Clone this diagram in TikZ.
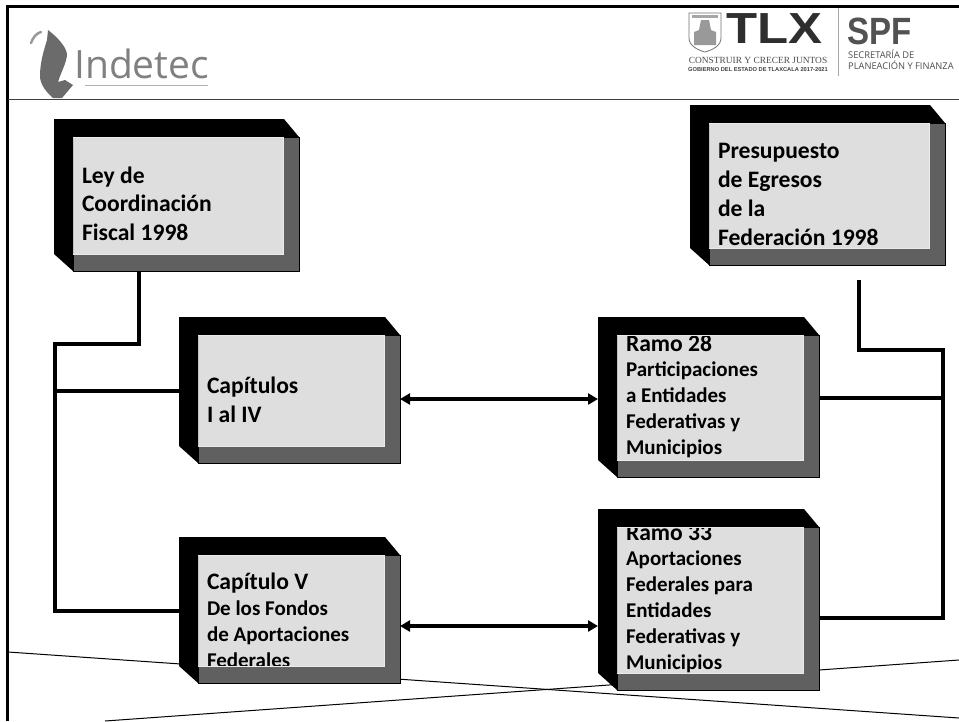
\documentclass[tikz,border=0pt]{standalone}
\usepackage{fontspec}
\setmainfont{Carlito}
\newfontfamily\logosans{Open Sans}
\newfontfamily\logobold{Liberation Sans}
\newfontfamily\logoserif{Liberation Serif}
\usetikzlibrary{arrows.meta,calc}
\definecolor{frontgray}{HTML}{DEDEDE}
\definecolor{sidegray}{HTML}{606060}
\tikzset{
  region/.style={inner sep=0pt,outer sep=0pt,draw=none},
  boxtext/.style={anchor=base west,inner sep=0pt,outer sep=0pt,text=black},
  conn/.style={draw=black,line width=3.3pt,line join=miter},
  dblconn/.style={draw=black,line width=3.3pt,{Triangle[length=10pt,width=11pt]}-{Triangle[length=10pt,width=11pt]}},
  thin line/.style={draw=black,line width=1pt},
  frameline/.style={draw=black,line width=3pt},
}
\newcommand{\bigf}{\fontsize{23.6}{25}\selectfont\bfseries}
\newcommand{\smallf}{\fontsize{21}{22}\selectfont\bfseries}
\newcommand{\regionbox}[5]{% name L T R B
  \node[region,minimum width={#4pt-#2pt},minimum height={#5pt-#3pt}] (#1) at ({(#2+#4)/2},{(#3+#5)/2}) {};}
\newcommand{\frontface}[5]{% name L T R B
  \fill[frontgray] ({#2+18},{#3+17}) rectangle ({#4-15},{#5-16});}
\newcommand{\bevels}[4]{% L T R B
  \fill[black] (#1,#2) -- ({#3-15},#2) -- (#3,{#2+18}) -- ({#1+19},{#2+18}) -- ({#1+19},#4) -- (#1,{#4-17}) -- cycle;
  \filldraw[fill=sidegray,draw=black,line width=.8pt] ({#3-16},{#2+18}) -- (#3,{#2+18}) -- (#3,#4) -- ({#1+19},#4) -- ({#1+19},{#4-17}) -- ({#3-16},{#4-17}) -- cycle;
  \draw[frontgray!60!white,line width=.6pt] ({#1+19},{#2+18}) -- ({#3-16},{#2+18}) -- ({#3-16},{#4-17}) -- ({#1+19},{#4-17});}
% \stack{font}{baseline skip}{lines}
\newcommand{\stack}[3]{\vtop{#1\baselineskip=#2pt\lineskiplimit=-100pt #3}}
\begin{document}
\begin{tikzpicture}[x=1pt,y=-1pt]
\useasboundingbox (0,0) rectangle (959,721);
\fill[white] (0,0) rectangle (959,721);

% frame and header rule
\coordinate (fa) at (7.5,721);
\coordinate (fb) at (7.5,6);
\coordinate (fc) at (959,6);
\draw[frameline] (fa) -- (fb) -- (fc);
\coordinate (ha) at (8,99.5);
\coordinate (hb) at (959,99.5);
\draw[draw=black!75,line width=1.4pt] (ha) -- (hb);

% regions
\regionbox{b1}{54}{119}{299}{271}
\regionbox{b2}{690}{105}{945}{265}
\regionbox{b3}{179}{317}{400}{463}
\regionbox{b4}{598}{317}{819}{477}
\regionbox{b5}{598}{509}{819}{690}
\regionbox{b6}{179}{537}{400}{683}

% thin crossing lines
\coordinate (ta) at (8,652);
\coordinate (tb) at (959,718);
\coordinate (tc) at (105,721);
\coordinate (td) at (959,660);
\draw[thin line] (ta) -- (tb);
\draw[thin line] (tc) -- (td);

% boxes: face, text, then bevel (the bevel cuts overflowing text)
\frontface{b1}{54}{119}{299}{271}
\node[boxtext] (t1) at (82,183) {\stack{\bigf}{28.5}{\hbox{Ley de}\hbox{Coordinación}\hbox{Fiscal 1998}}};
\bevels{54}{119}{299}{271}

\frontface{b2}{690}{105}{945}{265}
\node[boxtext] (t2) at (718,158) {\stack{\bigf}{29.2}{\hbox{Presupuesto}\hbox{de Egresos}\hbox{de la}\hbox{Federación 1998}}};
\bevels{690}{105}{945}{265}

\frontface{b3}{179}{317}{400}{463}
\node[boxtext] (t3) at (207,393) {\stack{\bigf}{29}{\hbox{Capítulos}\hbox{I al IV}}};
\bevels{179}{317}{400}{463}

\frontface{b4}{598}{317}{819}{477}
\node[boxtext] (t4) at (626,351) {\stack{\smallf}{25.8}{\hbox{\bigf Ramo 28}\hbox{Participaciones}\hbox{a Entidades}\hbox{Federativas y}\hbox{Municipios}}};
\bevels{598}{317}{819}{477}

\frontface{b5}{598}{509}{819}{690}
\node[boxtext] (t5) at (626,540) {\stack{\smallf}{25.8}{\hbox{\bigf Ramo 33}\hbox{Aportaciones}\hbox{Federales para}\hbox{Entidades}\hbox{Federativas y}\hbox{Municipios}}};
\bevels{598}{509}{819}{690}

\frontface{b6}{179}{537}{400}{683}
\node[boxtext] (t6) at (207,589) {\stack{\smallf}{26}{\hbox{\bigf Capítulo V}\hbox{De los Fondos}\hbox{de Aportaciones}\hbox{Federales}}};
\bevels{179}{537}{400}{683}

% left bus
\coordinate (la) at (139,344);
\coordinate (lb) at (55,344);
\coordinate (lc) at (55,611);
\coordinate (ld) at (55,391);
\draw[conn] (la |- b1.south) -- (la) -- (lb) -- (lc) -- (lc -| b6.west);
\draw[conn] (ld) -- (ld -| b3.west);

% right bus
\coordinate (ra) at (859,280);
\coordinate (rb) at (859,350);
\coordinate (rc) at (943,350);
\coordinate (rd) at (943,618);
\coordinate (re) at (943,398);
\draw[conn] (ra) -- (rb) -- (rc) -- (rd) -- (rd -| b5.east);
\draw[conn] (re) -- (re -| b4.east);

% double arrows
\coordinate (ya) at (500,399);
\coordinate (yb) at (500,626);
\draw[dblconn] (ya -| b3.east) -- (ya -| b4.west);
\draw[dblconn] (yb -| b6.east) -- (yb -| b5.west);

% Indetec logo
\fill[black!58] (48,30) .. controls (56,36) and (66,46) .. (67,54) .. controls (67,62) and (61,72) .. (58,82) -- (65,80) -- (73,85) -- (62,98) -- (53,98) .. controls (46,92) and (40,84) .. (40,76) .. controls (40,62) and (44,50) .. (47,40) -- cycle;
\draw[black!40,line width=2.5pt,line cap=round] (31,43) .. controls (33,37) and (37,33) .. (41,32);
\node[anchor=base west,inner sep=0pt,text=black!50] (indetec) at (74,78) {\logosans\fontsize{39}{39}\selectfont Indetec};
\coordinate (ia) at (85,85.5);
\coordinate (ib) at (208,85.5);
\draw[black!30,line width=1.6pt] (ia) -- (ib);

% TLX logo
\draw[black!55,line width=.8pt] (689,13) -- (721,13) -- (721,38) .. controls (721,46) and (712,50) .. (705,52) .. controls (698,50) and (689,46) .. (689,38) -- cycle;
\fill[black!40] (694,32) -- (694,45) -- (716,45) -- (716,32) -- (711,30) -- (709,20) -- (701,20) -- (699,30) -- cycle;
\fill[black!35] (692,15) rectangle (718,18);
\node[anchor=base west,inner sep=0pt,text=black!82,xscale=1.17] (tlx) at (726,43) {\logobold\bfseries\fontsize{43.5}{44}\selectfont TLX};
\node[anchor=base,inner sep=0pt,text=black!70] (cons) at (758,63.5) {\logoserif\fontsize{9.4}{10}\selectfont CONSTRUIR Y CRECER JUNTOS};
\node[anchor=base,inner sep=0pt,text=black!75] (gob) at (758,71.5) {\logobold\bfseries\fontsize{5.7}{6}\selectfont GOBIERNO DEL ESTADO DE TLAXCALA 2017-2021};
\coordinate (da) at (838,8);
\coordinate (db) at (838,76);
\draw[black!35,line width=.8pt] (da) -- (db);
\node[anchor=base west,inner sep=0pt,text=black!68,xscale=.87] (spf) at (847,44.5) {\logobold\bfseries\fontsize{38}{39}\selectfont SPF};
\node[anchor=base west,inner sep=0pt,text=black!70] (secr) at (848,58) {\logosans\fontsize{9.3}{10}\selectfont SECRETARÍA DE};
\node[anchor=base west,inner sep=0pt,text=black!70] (plan) at (848,69.5) {\logosans\fontsize{9.3}{10}\selectfont PLANEACIÓN Y FINANZA};
\end{tikzpicture}
\end{document}
